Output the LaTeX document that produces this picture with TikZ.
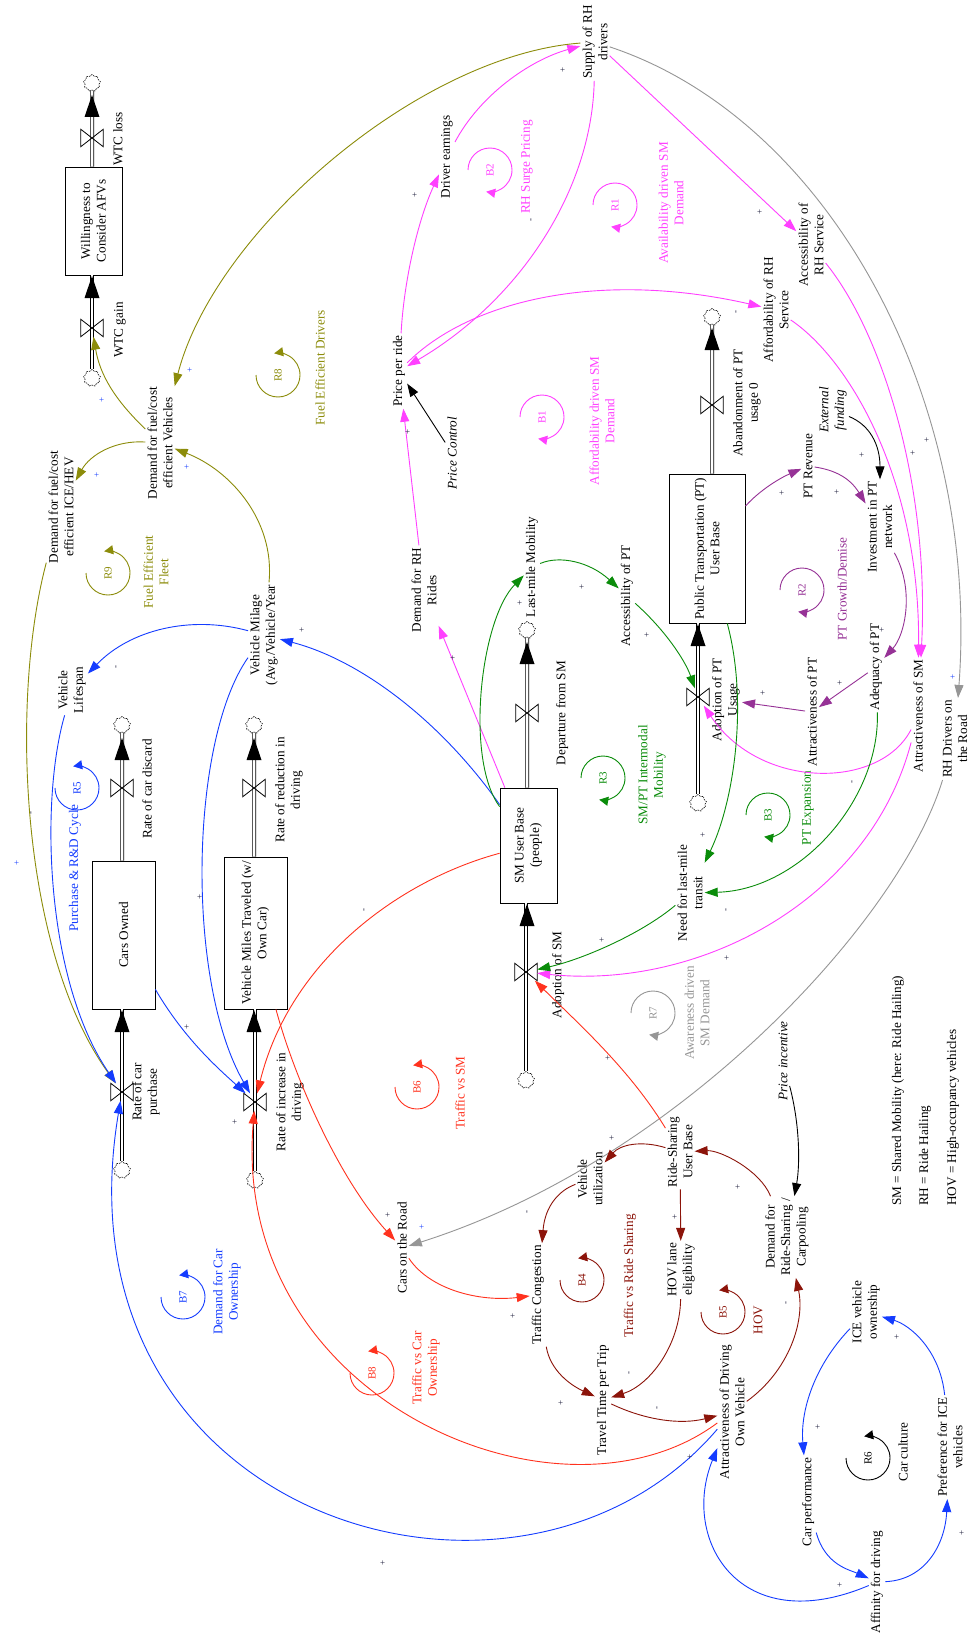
\documentclass[tikz,border=0pt]{standalone}
\usepackage{fontspec}
\setmainfont{Liberation Serif}
\usetikzlibrary{arrows.meta,shapes.symbols,calc}
\definecolor{cpink}{RGB}{255,64,255}
\definecolor{colive}{RGB}{140,140,10}
\definecolor{cblue}{RGB}{20,60,255}
\definecolor{cgreen}{RGB}{10,140,10}
\definecolor{cpurple}{RGB}{150,50,150}
\definecolor{cred}{RGB}{255,50,30}
\definecolor{cdred}{RGB}{140,20,10}
\definecolor{cgray}{RGB}{150,150,150}
\definecolor{ctext}{RGB}{30,30,60}
\newcommand\myvf{\fontsize{13.2}{15.5}\selectfont}
\newcommand\mylf{\fontsize{11}{13}\selectfont}
\newcommand\mysf{\fontsize{9}{9}\selectfont}
\newcommand\myvalve[2]{\node[inner sep=0pt,minimum width=22pt,minimum height=17pt] (#1) at (#2) {};
  \draw[line width=0.8pt] (#1.north west) -- (#1.south east) -- (#1.north east) -- (#1.south west) -- cycle;}
\newcommand\myhead[2]{\fill (#1,#2) -- (#1-7.5,#2+22) -- (#1+7.5,#2+22) -- cycle;}
\newcommand\loopA[5]{\node[loopname,text=#3] (#1) at (#4,#5) {#2};
  \draw[looparc,#3] (#4-22,#5) arc[start angle=180,end angle=-100,radius=22];}
\newcommand\loopB[5]{\node[loopname,text=#3] (#1) at (#4,#5) {#2};
  \draw[looparc,#3] (#4-22,#5) arc[start angle=-180,end angle=100,radius=22];}
\tikzset{
  var/.style={rotate=90,align=center,font=\myvf,inner sep=2pt},
  stockbox/.style={var,draw,line width=0.8pt},
  loopname/.style={rotate=90,align=center,font=\mylf},
  looptxt/.style={rotate=90,align=center,font=\myvf},
  sgn/.style={rotate=90,font=\mysf,inner sep=0pt,text=ctext},
  lnk/.style={line width=0.9pt,-{Triangle[length=13pt,width=9pt]}},
  looparc/.style={line width=0.9pt,-{Triangle[length=9pt,width=9pt]}},
  pipe/.style={draw=black,line width=0.7pt,double=white,double distance=2.6pt},
  cloudn/.style={cloud,cloud puffs=9,aspect=1,draw,dash pattern=on 1.5pt off 1pt,minimum width=17pt,minimum height=17pt,inner sep=0pt,line width=0.6pt}
}
\begin{document}
\begin{tikzpicture}[x=1pt,y=-1pt]
\useasboundingbox (0,0) rectangle (970,1637);
\fill[white] (0,0) rectangle (970,1637);

% ---------- stocks ----------
\node[stockbox,minimum width=108pt,minimum height=57pt] (bWTC) at (93.5,221) {Willingness to\\Consider AFVs};
\node[stockbox,minimum width=148pt,minimum height=63pt] (bCars) at (123.5,935) {Cars Owned};
\node[stockbox,minimum width=152pt,minimum height=63pt] (bVMT) at (255.5,933) {Vehicle Miles Traveled (w/\\Own Car)};
\node[stockbox,minimum width=115pt,minimum height=57pt] (bSM) at (528.5,845.5) {SM User Base\\(people)};
\node[stockbox,minimum width=149pt,minimum height=76pt] (bPT) at (707,548.5) {Public Transportation (PT)\\User Base};

% ---------- clouds ----------
\node[cloudn] (cWTCt) at (92,83) {};
\node[cloudn] (cWTCb) at (92,378) {};
\node[cloudn] (cCarsT) at (122,725) {};
\node[cloudn] (cCarsB) at (122,1170) {};
\node[cloudn] (cVMTt) at (254,725) {};
\node[cloudn] (cVMTb) at (255,1180) {};
\node[cloudn] (cSMt) at (527,630) {};
\node[cloudn] (cSMb) at (526,1080) {};
\node[cloudn] (cPTt) at (712,317) {};
\node[cloudn] (cPTb) at (698,803) {};

% ---------- pipes ----------
\draw[pipe] (cWTCb) -- (cWTCb |- bWTC.west);
\draw[pipe] (cWTCt) -- (cWTCt |- bWTC.east);
\draw[pipe] (cCarsB) -- (cCarsB |- bCars.west);
\draw[pipe] (cCarsT) -- (cCarsT |- bCars.east);
\draw[pipe] (cVMTb) -- (cVMTb |- bVMT.west);
\draw[pipe] (cVMTt) -- (cVMTt |- bVMT.east);
\draw[pipe] (cSMb) -- (cSMb |- bSM.west);
\draw[pipe] (cSMt) -- (cSMt |- bSM.east);
\draw[pipe] (cPTb) -- (cPTb |- bPT.west);
\draw[pipe] (cPTt) -- (cPTt |- bPT.east);
\myhead{92}{276}\myhead{92}{95}
\myhead{122}{1010}\myhead{122}{738}
\myhead{254}{1010}\myhead{254}{738}
\myhead{527}{904}\myhead{527}{642}
\myhead{698}{624}\myhead{712}{328}

% ---------- valves ----------
\myvalve{qWTCout}{92,138}
\myvalve{qWTCin}{92,328}
\myvalve{qCarsOut}{122,788}
\myvalve{qCarsIn}{122,1092}
\myvalve{qVMTout}{254,788}
\myvalve{qVMTin}{255,1102}
\myvalve{qSMout}{527,713}
\myvalve{qSMin}{526,972}
\myvalve{qPTout}{712,405}
\myvalve{qPTin}{698,697}

% ---------- flow labels ----------
\node[var] (lWTCout) at (118,139) {WTC loss};
\node[var] (lWTCin) at (120,330) {WTC gain};
\node[var] (lCarsOut) at (147,789) {Rate of car discard};
\node[var] (lCarsIn) at (146,1092) {Rate of car\\purchase};
\node[var] (lVMTout) at (289,790) {Rate of reduction in\\driving};
\node[var] (lVMTin) at (290,1102) {Rate of increase in\\driving};
\node[var] (lSMout) at (562,713) {Departure from SM};
\node[var] (lSMin) at (558,975) {Adoption of SM};
\node[var] (lPTout) at (747,403) {Abandonment of PT\\usage 0};
\node[var] (lPTin) at (726,700) {Adoption of PT\\Usage};

% ---------- variables ----------
\node[var] (vSupply) at (595,42) {Supply of RH\\drivers};
\node[var] (vEarn) at (447,157) {Driver earnings};
\node[var] (vPrice) at (399,371) {Price per ride};
\node[var,font=\myvf\itshape] (vPriceCtrl) at (452,453) {Price Control};
\node[var] (vDemRH) at (424,590) {Demand for RH\\Rides};
\node[var] (vAfford) at (776,310) {Affordability of RH\\Service};
\node[var] (vAccess) at (811,245) {Accessibility of\\RH Service};
\node[var] (vPTrev) at (808,466) {PT Revenue};
\node[var,font=\myvf\itshape] (vExt) at (833,410) {External\\funding};
\node[var] (vInvest) at (880,527) {Investment in PT\\network};
\node[var] (vAdeq) at (876,667) {Adequacy of PT};
\node[var] (vAttrPT) at (812,712) {Attractiveness of PT};
\node[var] (vAttrSM) at (918,716) {Attractiveness of SM};
\node[var] (vRHdrv) at (955,739) {RH Drivers on\\the Road};
\node[var] (vLast) at (532,567) {Last-mile Mobility};
\node[var] (vAccPT) at (627,596) {Accessibility of PT};
\node[var] (vNeed) at (690,893) {Need for last-mile\\transit};
\node[var] (vDFV) at (160,443) {Demand for fuel/cost\\efficient Vehicles};
\node[var] (vDICE) at (61,507) {Demand for fuel/cost\\efficient ICE/HEV};
\node[var] (vVmil) at (264,635) {Vehicle Milage\\(Avg./Vehicle/Year};
\node[var] (vVlife) at (72,690) {Vehicle\\Lifespan};
\node[var] (vCarsRoad) at (402,1248) {Cars on the Road};
\node[var] (vVutil) at (590,1179) {Vehicle\\utilization};
\node[var] (vRSUB) at (680,1152) {Ride-Sharing\\User Base};
\node[var,font=\myvf\itshape] (vPinc) at (783,1061) {Price incentive};
\node[var] (vDRS) at (787,1237) {Demand for\\Ride-Sharing /\\Carpooling};
\node[var] (vTraffic) at (538,1295) {Traffic Congestion};
\node[var] (vHOV) at (681,1270) {HOV lane\\eligibility};
\node[var] (vTtime) at (603,1400) {Travel Time per Trip};
\node[var] (vAttrDrv) at (732,1412) {Attractiveness of Driving\\Own Vehicle};
\node[var] (vCarPerf) at (808,1502) {Car performance};
\node[var] (vAffin) at (877,1582) {Affinity for driving};
\node[var] (vICE) at (866,1312) {ICE vehicle\\ownership};
\node[var] (vPref) at (950,1447) {Preference for ICE\\vehicles};

% ---------- legend ----------
\node[var,anchor=west] (leg1) at (898,1208) {SM = Shared Mobility (here: Ride Hailing)};
\node[var,anchor=west] (leg2) at (925,1208) {RH = Ride Hailing};
\node[var,anchor=west] (leg3) at (953,1208) {HOV = High-occupancy vehicles};

% ---------- loop texts ----------
\node[looptxt,text=colive] (tR8) at (320,368) {Fuel Efficient Drivers};
\node[looptxt,text=cpink] (tB2) at (527,167) {RH Surge Pricing};
\node[looptxt,text=cpink] (tR1) at (671,203) {Availability driven SM\\Demand};
\node[looptxt,text=cpink] (tB1) at (602,421) {Affordability driven SM\\Demand};
\node[looptxt,text=cgreen] (tR3) at (652,775) {SM/PT Intermodal\\Mobility};
\node[looptxt,text=cpurple] (tR2) at (842,589) {PT Growth/Demise};
\node[looptxt,text=cgreen] (tB3) at (808,808) {PT Expansion};
\node[looptxt,text=cgray] (tR7) at (697,1013) {Awareness driven\\SM Demand};
\node[looptxt,text=cred] (tB6) at (460,1093) {Traffic vs SM};
\node[looptxt,text=cdred] (tB4) at (630,1276) {Traffic vs Ride Sharing};
\node[looptxt,text=cred] (tB8) at (426,1368) {Traffic vs Car\\Ownership};
\node[looptxt,text=cblue] (tB7) at (227,1292) {Demand for Car\\Ownership};
\node[looptxt,text=cdred] (tB5) at (758,1320) {HOV};
\node[looptxt,text=black] (tR6) at (903,1452) {Car culture};
\node[looptxt,text=colive] (tR9) at (156,572) {Fuel Efficient\\Fleet};
\node[looptxt,text=cblue] (tR5) at (75,868) {Purchase \& R\&D Cycle};

% ---------- loop symbols ----------
\loopA{R8}{R8}{colive}{278}{375}
\loopA{B6}{B6}{cred}{417}{1087}
\loopA{B4}{B4}{cdred}{582}{1280}
\loopA{B8}{B8}{cred}{372}{1373}
\loopA{B7}{B7}{cblue}{183}{1297}
\loopA{B5}{B5}{cdred}{723}{1312}
\loopA{R6}{R6}{black}{868}{1458}
\loopA{R9}{R9}{colive}{108}{573}
\loopA{R5}{R5}{cblue}{77}{788}
\loopB{B2}{B2}{cpink}{490}{170}
\loopB{R1}{R1}{cpink}{615}{205}
\loopB{B1}{B1}{cpink}{542}{417}
\loopB{R3}{R3}{cgreen}{603}{778}
\loopB{R2}{R2}{cpurple}{802}{590}
\loopB{B3}{B3}{cgreen}{768}{815}
\loopB{R7}{R7}{cgray}{653}{1013}

% ---------- pink links ----------
\draw[lnk,cpink] (vPrice) .. controls (404,280) and (418,220) .. (vEarn);
\draw[lnk,cpink] (vEarn) .. controls (480,95) and (530,60) .. (vSupply);
\draw[lnk,cpink] (vSupply) .. controls (592,190) and (520,300) .. (vPrice);
\draw[lnk,cpink] (vPrice) .. controls (470,300) and (600,270) .. (vAfford);
\draw[lnk,cpink] (vSupply) -- (vAccess);
\draw[lnk,cpink] (vAfford) .. controls (850,360) and (920,480) .. (vAttrSM);
\draw[lnk,cpink] (vAccess) .. controls (880,330) and (930,480) .. (vAttrSM);
\draw[lnk,cpink] (vAttrSM) .. controls (880,790) and (760,790) .. (qPTin);
\draw[lnk,cpink] (vAttrSM) .. controls (870,900) and (700,990) .. (qSMin);
\draw[lnk,cpink] (bSM) -- (vDemRH);
\draw[lnk,cpink] (vDemRH) -- (vPrice);

% ---------- black links ----------
\draw[lnk] (vPriceCtrl) -- (vPrice);
\draw[lnk] (vExt) .. controls (870,425) and (880,445) .. (vInvest);
\draw[lnk] (vPinc) .. controls (800,1125) and (800,1165) .. (vDRS);

% ---------- gray links ----------
\draw[lnk,cgray] (vSupply) .. controls (830,120) and (980,400) .. (vRHdrv);
\draw[lnk,cgray] (vRHdrv) .. controls (900,920) and (680,1160) .. (vCarsRoad);

% ---------- olive links ----------
\draw[lnk,colive] (vSupply) .. controls (420,55) and (215,230) .. (vDFV);
\draw[lnk,colive] (vDFV) .. controls (115,400) and (100,375) .. (qWTCin);
\draw[lnk,colive] (vDFV) .. controls (115,440) and (90,455) .. (vDICE);
\draw[lnk,colive] (vVmil) .. controls (275,520) and (230,470) .. (vDFV);
\draw[lnk,colive] (vDICE) .. controls (10,700) and (20,950) .. (qCarsIn);

% ---------- blue links ----------
\draw[lnk,cblue] (vVlife) .. controls (40,800) and (45,980) .. (qCarsIn);
\draw[lnk,cblue] (vVmil) .. controls (190,615) and (130,630) .. (vVlife);
\draw[lnk,cblue] (bSM) .. controls (440,720) and (360,660) .. (vVmil);
\draw[lnk,cblue] (vVmil) .. controls (190,740) and (185,980) .. (qVMTin);
\draw[lnk,cblue] (bCars) .. controls (185,1040) and (220,1070) .. (qVMTin);
\draw[lnk,cblue] (vAttrDrv) .. controls (520,1660) and (50,1520) .. (qCarsIn);
\draw[lnk,cblue] (vAffin) .. controls (740,1640) and (680,1540) .. (vAttrDrv);
\draw[lnk,cblue] (vICE) .. controls (815,1365) and (800,1410) .. (vCarPerf);
\draw[lnk,cblue] (vCarPerf) .. controls (825,1565) and (850,1570) .. (vAffin);
\draw[lnk,cblue] (vAffin) .. controls (925,1580) and (945,1545) .. (vPref);
\draw[lnk,cblue] (vPref) .. controls (940,1350) and (910,1325) .. (vICE);

% ---------- green links ----------
\draw[lnk,cgreen] (bSM) .. controls (465,760) and (480,620) .. (vLast);
\draw[lnk,cgreen] (vLast) .. controls (560,555) and (590,562) .. (vAccPT);
\draw[lnk,cgreen] (vAccPT) .. controls (665,630) and (685,660) .. (qPTin);
\draw[lnk,cgreen] (bPT) .. controls (748,700) and (735,800) .. (vNeed);
\draw[lnk,cgreen] (vAdeq) .. controls (880,800) and (800,890) .. (vNeed);
\draw[lnk,cgreen] (vNeed) .. controls (640,935) and (580,960) .. (qSMin);

% ---------- purple links ----------
\draw[lnk,cpurple] (bPT) .. controls (760,490) and (780,478) .. (vPTrev);
\draw[lnk,cpurple] (vPTrev) .. controls (835,470) and (850,478) .. (vInvest);
\draw[lnk,cpurple] (vInvest) .. controls (915,590) and (905,635) .. (vAdeq);
\draw[lnk,cpurple] (vAdeq) -- (vAttrPT);
\draw[lnk,cpurple] (vAttrPT) -- (lPTin);

% ---------- red links ----------
\draw[lnk,cred] (bSM) .. controls (400,880) and (290,960) .. (qVMTin);
\draw[lnk,cred] (vAttrDrv) .. controls (560,1540) and (230,1400) .. (qVMTin);
\draw[lnk,cred] (bVMT) .. controls (295,1080) and (340,1180) .. (vCarsRoad);
\draw[lnk,cred] (vCarsRoad) .. controls (430,1290) and (480,1302) .. (vTraffic);
\draw[lnk,cred] (vRSUB) .. controls (630,1070) and (580,1025) .. (qSMin);

% ---------- dark red links ----------
\draw[lnk,cdred] (vRSUB) .. controls (640,1140) and (620,1145) .. (vVutil);
\draw[lnk,cdred] (vVutil) .. controls (560,1190) and (545,1205) .. (vTraffic);
\draw[lnk,cdred] (vRSUB) -- (vHOV);
\draw[lnk,cdred] (vTraffic) .. controls (550,1370) and (570,1385) .. (vTtime);
\draw[lnk,cdred] (vHOV) .. controls (680,1345) and (650,1385) .. (vTtime);
\draw[lnk,cdred] (vTtime) .. controls (645,1420) and (680,1425) .. (vAttrDrv);
\draw[lnk,cdred] (vAttrDrv) .. controls (790,1370) and (805,1320) .. (vDRS);
\draw[lnk,cdred] (vDRS) .. controls (760,1170) and (720,1150) .. (vRSUB);

% ---------- polarity signs ----------
\foreach \p/\t [count=\i] in {{563,70}/+,{415,195}/+,{532,220}/-,{737,312}/-,{760,212}/+,{408,432}/+,{453,658}/+,{520,603}/+,{582,587}/+,{647,635}/+,{782,493}/+,{837,492}/+,{882,630}/+,{840,683}/+,{763,693}/+,{862,455}/+,{913,453}/+,{927,440}/+,{853,782}/-,{703,835}/+,{727,910}/-,{727,958}/+,{602,940}/+,{608,1058}/+,{365,910}/-,{302,630}/+,{117,667}/-,{32,813}/-,{200,897}/+,{187,1027}/+,{235,1122}/+,{388,1215}/+,{612,1138}/+,{528,1212}/-,{513,1316}/+,{561,1403}/+,{630,1373}/-,{675,1217}/+,{658,1408}/-,{787,1303}/-,{738,1187}/+,{383,1563}/+,{690,1457}/+,{840,1585}/+,{818,1427}/+,{962,1533}/+,{897,1337}/+}
  \node[sgn] (s\i) at (\p) {\t};
\foreach \p [count=\i] in {{190,370},{102,400},{97,475},{187,467},{953,677},{17,863},{422,1227}}
  \node[sgn,text=cblue] (sb\i) at (\p) {+};
\end{tikzpicture}
\end{document}
